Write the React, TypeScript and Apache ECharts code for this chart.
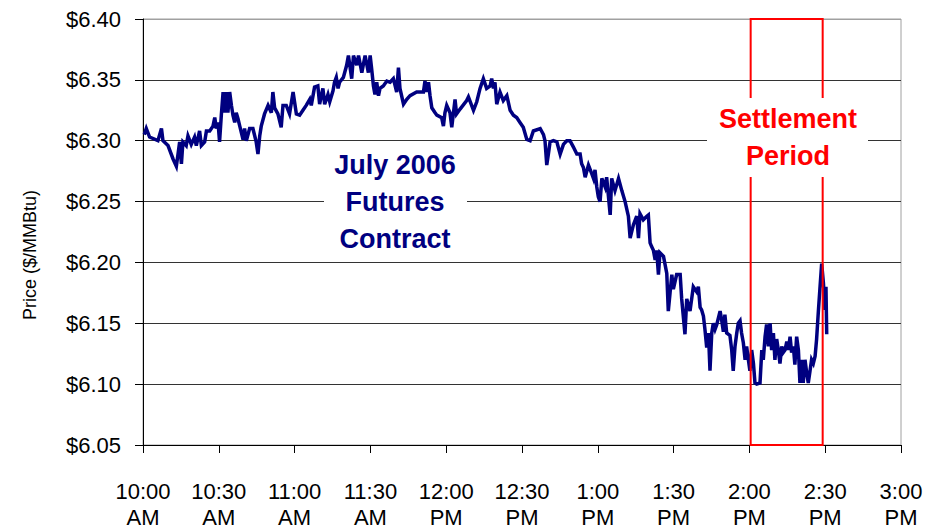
import React, { useEffect, useRef } from "react";
import * as echarts from "echarts";

// Tick labels
const X_TICK_TIMES = ["10:00", "10:30", "11:00", "11:30", "12:00", "12:30", "1:00", "1:30", "2:00", "2:30", "3:00"];
const X_TICK_PERIODS = ["AM", "AM", "AM", "AM", "PM", "PM", "PM", "PM", "PM", "PM", "PM"];

// Minutes after 10:00 AM, price ($/MMBtu)
const MORNING: [number, number][] = [
  [0.5, 6.305], [1.3, 6.31], [2.6, 6.303], [5.9, 6.3], [7.3, 6.31], [7.9, 6.3], [9.9, 6.296], [11.9, 6.285],
  [13.2, 6.279], [13.8, 6.288], [14.5, 6.299], [15.2, 6.281], [15.8, 6.299], [17.1, 6.296], [17.8, 6.304],
  [19.1, 6.297], [20.4, 6.303], [21.1, 6.296], [22.4, 6.308], [23.1, 6.296], [24.4, 6.299], [25.1, 6.308],
  [26.4, 6.308], [27.7, 6.312], [28.4, 6.319], [29.0, 6.31], [29.7, 6.315], [30.3, 6.299], [31.0, 6.321],
  [31.7, 6.34], [32.3, 6.323], [33.0, 6.34], [33.6, 6.323], [34.3, 6.34], [35.0, 6.329], [35.6, 6.321],
  [36.3, 6.315], [36.9, 6.323], [37.6, 6.318], [38.3, 6.312], [39.6, 6.301], [40.2, 6.31], [40.9, 6.3],
  [42.2, 6.31], [43.5, 6.31], [44.8, 6.299], [45.5, 6.289], [46.2, 6.304], [46.8, 6.312], [48.1, 6.322],
  [49.5, 6.329], [50.8, 6.323], [51.4, 6.34], [52.1, 6.327], [53.4, 6.322], [54.7, 6.311], [55.4, 6.329],
  [56.7, 6.329], [58.0, 6.322], [59.4, 6.34], [60.7, 6.322], [62.0, 6.321], [63.3, 6.325], [64.6, 6.329],
  [66.0, 6.334], [66.6, 6.329], [67.9, 6.344], [69.2, 6.345], [69.9, 6.33], [71.2, 6.343], [71.9, 6.33],
  [73.2, 6.338], [73.9, 6.332], [75.2, 6.341], [75.8, 6.348], [76.5, 6.352], [77.2, 6.343], [77.8, 6.348],
];

const MIDDAY: [number, number][] = [
  [79.3, 6.352], [80.6, 6.362], [81.3, 6.37], [82.6, 6.351], [83.3, 6.37], [84.6, 6.362], [85.3, 6.37],
  [86.6, 6.356], [87.9, 6.37], [89.2, 6.356], [89.9, 6.37], [90.5, 6.359], [91.2, 6.345], [91.8, 6.338],
  [92.5, 6.348], [93.2, 6.337], [93.8, 6.343], [95.1, 6.345], [96.5, 6.349], [97.8, 6.348], [99.1, 6.351],
  [100.4, 6.34], [101.1, 6.36], [101.7, 6.343], [103.1, 6.33], [104.4, 6.334], [105.7, 6.337], [108.3, 6.34],
  [111.0, 6.34], [111.6, 6.349], [112.3, 6.34], [113.0, 6.348], [113.6, 6.337], [114.3, 6.327], [115.6, 6.323],
  [116.3, 6.321], [118.2, 6.319], [118.9, 6.312], [119.5, 6.323], [120.2, 6.329], [121.5, 6.323], [122.2, 6.311],
  [123.5, 6.334], [124.1, 6.322], [125.5, 6.326], [128.1, 6.333], [128.8, 6.336], [130.8, 6.325], [132.1, 6.332],
  [133.4, 6.343], [134.7, 6.351], [136.0, 6.343], [137.4, 6.345], [138.0, 6.351], [138.7, 6.343], [139.3, 6.348],
  [140.0, 6.33], [141.3, 6.34], [142.6, 6.333], [144.0, 6.337], [145.3, 6.325], [146.6, 6.321], [147.9, 6.319],
  [149.2, 6.315], [150.5, 6.311], [151.9, 6.301], [153.2, 6.3],
];

const AFTERNOON: [number, number][] = [
  [154.5, 6.308], [157.2, 6.31], [158.5, 6.305], [159.1, 6.3], [159.8, 6.28], [160.5, 6.29], [161.1, 6.299],
  [162.4, 6.3], [163.8, 6.299], [165.1, 6.289], [166.4, 6.297], [167.7, 6.3], [169.0, 6.3], [170.3, 6.295],
  [171.7, 6.289], [173.0, 6.289], [173.6, 6.281], [174.3, 6.278], [175.0, 6.27], [176.3, 6.28], [177.6, 6.273],
  [178.3, 6.269], [178.9, 6.276], [179.6, 6.262], [180.2, 6.254], [180.9, 6.25], [181.6, 6.269], [182.9, 6.262],
  [183.5, 6.27], [184.9, 6.239], [185.5, 6.269], [186.8, 6.259], [188.2, 6.269], [189.5, 6.259], [190.8, 6.25],
  [192.1, 6.238], [192.8, 6.22], [194.1, 6.231], [195.4, 6.238], [196.1, 6.22], [196.7, 6.24], [198.0, 6.235],
  [199.4, 6.238], [200.0, 6.239], [200.7, 6.216], [201.3, 6.213], [202.0, 6.21], [202.7, 6.202], [203.3, 6.21],
  [204.0, 6.19], [204.6, 6.208], [206.0, 6.205], [207.3, 6.191], [207.9, 6.16], [208.6, 6.175], [209.3, 6.19],
  [209.9, 6.178], [211.2, 6.19], [212.6, 6.19], [213.2, 6.17], [214.5, 6.141], [215.2, 6.17], [216.5, 6.16],
];

const CLOSE: [number, number][] = [
  [217.8, 6.18], [219.1, 6.176], [219.8, 6.18], [220.5, 6.163], [221.1, 6.161], [221.8, 6.156], [222.4, 6.145],
  [223.1, 6.13], [223.8, 6.142], [224.4, 6.111], [225.1, 6.142], [225.7, 6.15], [226.4, 6.145], [227.1, 6.149],
  [228.4, 6.16], [229.0, 6.153], [229.7, 6.143], [230.3, 6.157], [231.0, 6.142], [232.3, 6.14], [233.0, 6.128],
  [233.6, 6.111], [234.3, 6.131], [235.0, 6.142], [235.6, 6.15], [236.3, 6.152], [236.9, 6.142], [237.6, 6.134],
  [238.3, 6.12], [238.9, 6.131], [239.6, 6.12], [240.2, 6.111], [240.9, 6.128], [241.6, 6.117], [242.2, 6.101],
  [242.9, 6.1], [244.2, 6.101], [244.9, 6.128], [245.5, 6.12], [246.2, 6.139], [246.8, 6.149], [247.5, 6.131],
  [248.2, 6.15], [248.8, 6.128], [249.5, 6.142], [250.1, 6.12], [250.8, 6.137], [251.5, 6.127], [252.1, 6.117],
  [252.8, 6.131], [253.4, 6.126], [254.1, 6.128], [254.8, 6.135], [255.4, 6.128], [256.1, 6.139], [256.7, 6.126],
  [257.4, 6.131], [258.0, 6.116], [258.7, 6.139], [259.4, 6.128], [260.0, 6.101], [260.7, 6.12], [261.3, 6.101],
  [262.0, 6.12], [262.7, 6.109], [263.3, 6.101], [264.0, 6.111], [264.6, 6.12], [265.3, 6.117], [266.0, 6.123],
  [266.6, 6.137], [267.3, 6.16], [267.9, 6.178], [268.6, 6.199], [269.3, 6.183], [269.9, 6.161], [270.3, 6.18],
  [270.6, 6.141],
];

// Settlement period bounds (minutes after 10:00 AM)
const SETTLEMENT_START = 240.5;
const SETTLEMENT_END = 269;

const FONT = "Arial, 'Liberation Sans', sans-serif";

export default function App() {
  const ref = useRef<HTMLDivElement>(null);

  useEffect(() => {
    if (!ref.current) return;
    const chart = echarts.init(ref.current, undefined, { renderer: "svg" });
    const data = [...MORNING, ...MIDDAY, ...AFTERNOON, ...CLOSE];
    const gridColors = ["#333", "#333", "#333", "#333", "#333", "#333", "#333", "#a0a0a0"];

    chart.setOption({
      animation: false,
      backgroundColor: "#ffffff",
      grid: {
        left: 143,
        top: 19,
        width: 758,
        height: 426,
        show: true,
        borderColor: "#a0a0a0",
        borderWidth: 1,
        backgroundColor: "transparent",
        outerBoundsMode: "none",
      },
      xAxis: {
        type: "value",
        min: 0,
        max: 300,
        interval: 30,
        axisLine: { show: true, lineStyle: { color: "#000", width: 1 } },
        axisTick: { show: true, length: 8, lineStyle: { color: "#000" } },
        splitLine: { show: false },
        axisLabel: {
          margin: 33,
          fontFamily: FONT,
          fontSize: 22,
          color: "#000",
          lineHeight: 26,
          formatter: (v: number) => {
            const i = Math.round(v / 30);
            return `${X_TICK_TIMES[i]}\n${X_TICK_PERIODS[i]}`;
          },
        },
      },
      yAxis: {
        type: "value",
        min: 6.05,
        max: 6.4,
        interval: 0.05,
        axisLine: { show: true, lineStyle: { color: "#000", width: 1 } },
        axisTick: { show: true, length: 8, lineStyle: { color: "#000" } },
        splitLine: { show: true, lineStyle: { color: gridColors, width: 1 } },
        axisLabel: {
          margin: 22,
          fontFamily: FONT,
          fontSize: 22,
          color: "#000",
          formatter: (v: number) => "$" + v.toFixed(2),
        },
      },
      graphic: [
        {
          type: "text",
          x: 30,
          y: 255,
          rotation: Math.PI / 2,
          style: {
            text: "Price ($/MMBtu)",
            fontFamily: FONT,
            fontSize: 18,
            fill: "#000",
            align: "center",
            verticalAlign: "middle",
          },
        },
        {
          type: "rect",
          z: 10,
          shape: { x: 324, y: 145, width: 143, height: 113 },
          style: { fill: "#ffffff" },
        },
        {
          type: "text",
          z: 11,
          x: 395,
          y: 202,
          style: {
            text: "July 2006\nFutures\nContract",
            fontFamily: FONT,
            fontWeight: "bold",
            fontSize: 27,
            fill: "#000080",
            align: "center",
            verticalAlign: "middle",
            lineHeight: 37,
          },
        },
        {
          type: "rect",
          z: 10,
          shape: { x: 707, y: 98, width: 161, height: 79 },
          style: { fill: "#ffffff" },
        },
        {
          type: "text",
          z: 11,
          x: 788,
          y: 137,
          style: {
            text: "Settlement\nPeriod",
            fontFamily: FONT,
            fontWeight: "bold",
            fontSize: 27,
            fill: "#ff0000",
            align: "center",
            verticalAlign: "middle",
            lineHeight: 37,
          },
        },
      ],
      series: [
        {
          type: "line",
          data,
          showSymbol: false,
          clip: false,
          lineStyle: { color: "#000080", width: 3.5, join: "miter" },
          markArea: {
            silent: true,
            z: 5,
            itemStyle: { color: "rgba(0,0,0,0)", borderColor: "#ff0000", borderWidth: 2 },
            data: [[{ xAxis: SETTLEMENT_START, yAxis: 6.05 }, { xAxis: SETTLEMENT_END, yAxis: 6.4 }]],
          },
        },
      ],
    });

    return () => chart.dispose();
  }, []);

  return (
    <div
      ref={ref}
      style={{ position: "fixed", left: 0, top: 0, width: 929, height: 529, background: "#fff" }}
    />
  );
}
